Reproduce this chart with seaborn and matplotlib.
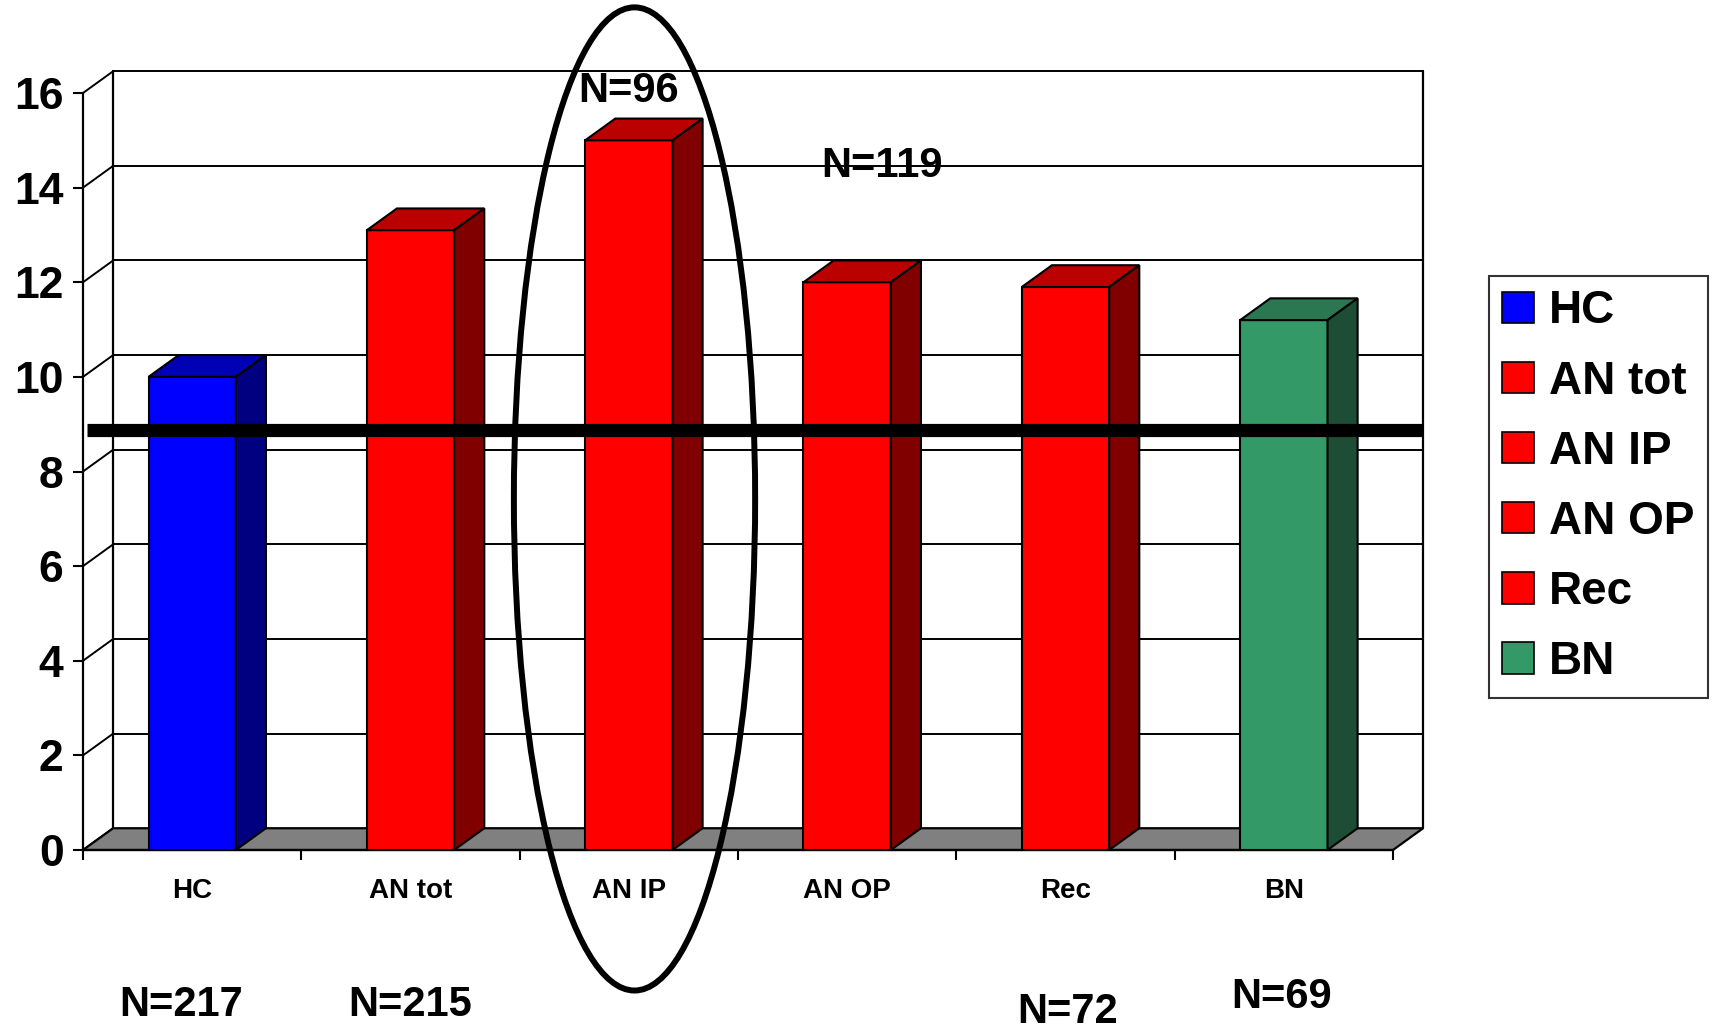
import matplotlib
matplotlib.use("Agg")
import matplotlib.pyplot as plt
from matplotlib.patches import Polygon, Ellipse, Patch
from matplotlib.ticker import FixedLocator
import seaborn as sns
import pandas as pd

# data
categories = ["HC", "AN tot", "AN IP", "AN OP", "Rec", "BN"]
values = [10.0, 13.1, 15.0, 12.0, 11.9, 11.2]
reference_level = 8.87
front_colors = ["#0000FF", "#FF0000", "#FF0000", "#FF0000", "#FF0000", "#339966"]
top_colors = ["#0000B4", "#BB0000", "#BB0000", "#BB0000", "#BB0000", "#2A7751"]
side_colors = ["#000080", "#800000", "#800000", "#800000", "#800000", "#1E4D35"]
yticks = [0, 2, 4, 6, 8, 10, 12, 14, 16]
n_labels = ["N=217", "N=215", "N=96", "N=119", "N=72", "N=69"]
n_label_pos = [(-0.05, -3.28), (1.0, -3.28), (2.0, 16.05), (3.16, 14.46), (4.01, -3.42), (4.99, -3.11)]

sns.set_style("white")
plt.rcParams['font.family'] = ['Liberation Sans', 'DejaVu Sans']
plt.rcParams['font.weight'] = 'bold'
for key in ['text.color', 'xtick.color', 'ytick.color', 'axes.labelcolor', 'axes.edgecolor']:
    plt.rcParams[key] = 'black'

fig = plt.figure(figsize=(17.13, 10.29), dpi=100)
ax = fig.add_axes([83 / 1713, 179 / 1029, 1310 / 1713, 757 / 1029])

df = pd.DataFrame({"group": categories, "value": values})
sns.barplot(data=df, x="group", y="value", hue="group", palette=front_colors, saturation=1,
            width=0.4, edgecolor="black", linewidth=1.5, legend=False, ax=ax, zorder=3)
bars = sorted(ax.patches, key=lambda p: p.get_x())

ax.set_xlim(-0.5, 5.5)
ax.set_ylim(0, 16)

# depth of the fake 3D box, in data units
dx, dy = 0.138, 0.46
x0, x1 = -0.5, 5.5

# back wall gridlines + left wall diagonals
for k in yticks:
    if k > 0:
        ax.plot([x0 + dx, x1 + dx], [k + dy, k + dy], color="black", lw=1.4, zorder=0.5, clip_on=False)
    ax.plot([x0, x0 + dx], [k, k + dy], color="black", lw=1.4, zorder=0.5, clip_on=False)
ax.plot([x0 + dx, x0 + dx], [dy, 16 + dy], color="black", lw=1.6, zorder=0.5, clip_on=False)
ax.plot([x1 + dx, x1 + dx], [dy, 16 + dy], color="black", lw=1.6, zorder=0.5, clip_on=False)

# floor
ax.add_patch(Polygon([(x0, 0), (x1, 0), (x1 + dx, dy), (x0 + dx, dy)], closed=True,
                     facecolor="#808080", edgecolor="black", lw=1.6, zorder=1, clip_on=False))

# tops and sides of the bars
for i, p in enumerate(bars):
    bx0 = p.get_x()
    bx1 = bx0 + p.get_width()
    h = p.get_height()
    ax.add_patch(Polygon([(bx0, h), (bx1, h), (bx1 + dx, h + dy), (bx0 + dx, h + dy)], closed=True,
                         facecolor=top_colors[i], edgecolor="black", lw=1.5, zorder=3, clip_on=False))
    ax.add_patch(Polygon([(bx1, 0), (bx1 + dx, dy), (bx1 + dx, h + dy), (bx1, h)], closed=True,
                         facecolor=side_colors[i], edgecolor="black", lw=1.5, zorder=3, clip_on=False))

# thick reference line
ax.plot([-0.48, 5.633], [reference_level, reference_level], color="black", lw=9.5,
        solid_capstyle="butt", zorder=4, clip_on=False)

# ellipse around AN IP
ax.add_patch(Ellipse((2.026, 7.42), 1.105, 20.78, fill=False, edgecolor="black", lw=4.3,
                     zorder=5, clip_on=False))

# N annotations
for lab, (tx, ty) in zip(n_labels, n_label_pos):
    ax.text(tx, ty, lab, ha="center", va="center", fontsize=30, fontweight="bold",
            color="black", zorder=6, clip_on=False)

# axes styling
for s in ["top", "right"]:
    ax.spines[s].set_visible(False)
for s in ["left", "bottom"]:
    ax.spines[s].set_linewidth(1.6)
    ax.spines[s].set_color("black")
    ax.spines[s].set_zorder(2)

ax.set_yticks(yticks)
ax.set_yticklabels([str(t) for t in yticks], fontsize=32, fontweight="bold")
ax.tick_params(axis="y", direction="out", length=7, width=1.5, pad=7, left=True, colors="black")

ax.set_xticks(range(len(categories)))
ax.set_xticklabels(categories, fontsize=20, fontweight="bold")
ax.tick_params(axis="x", which="major", length=0, pad=20, colors="black")
ax.xaxis.set_minor_locator(FixedLocator([x0 + i for i in range(7)]))
ax.tick_params(axis="x", which="minor", direction="out", length=7, width=1.5, bottom=True, colors="black")
ax.set_xlabel("")
ax.set_ylabel("")
ax.grid(False)

handles = [Patch(facecolor=c, edgecolor="black", lw=1.2) for c in front_colors]
leg = fig.legend(handles, categories, loc="center left", bbox_to_anchor=(0.869, 0.527),
                 frameon=True, fancybox=False, prop={"weight": "bold", "size": 33},
                 handlelength=0.68, handleheight=0.68, handletextpad=0.33, labelspacing=0.57,
                 borderpad=0.3, borderaxespad=0, labelcolor="black")
leg.get_frame().set_edgecolor("black")
leg.get_frame().set_linewidth(1.5)

fig.savefig("out.png", dpi=100)
